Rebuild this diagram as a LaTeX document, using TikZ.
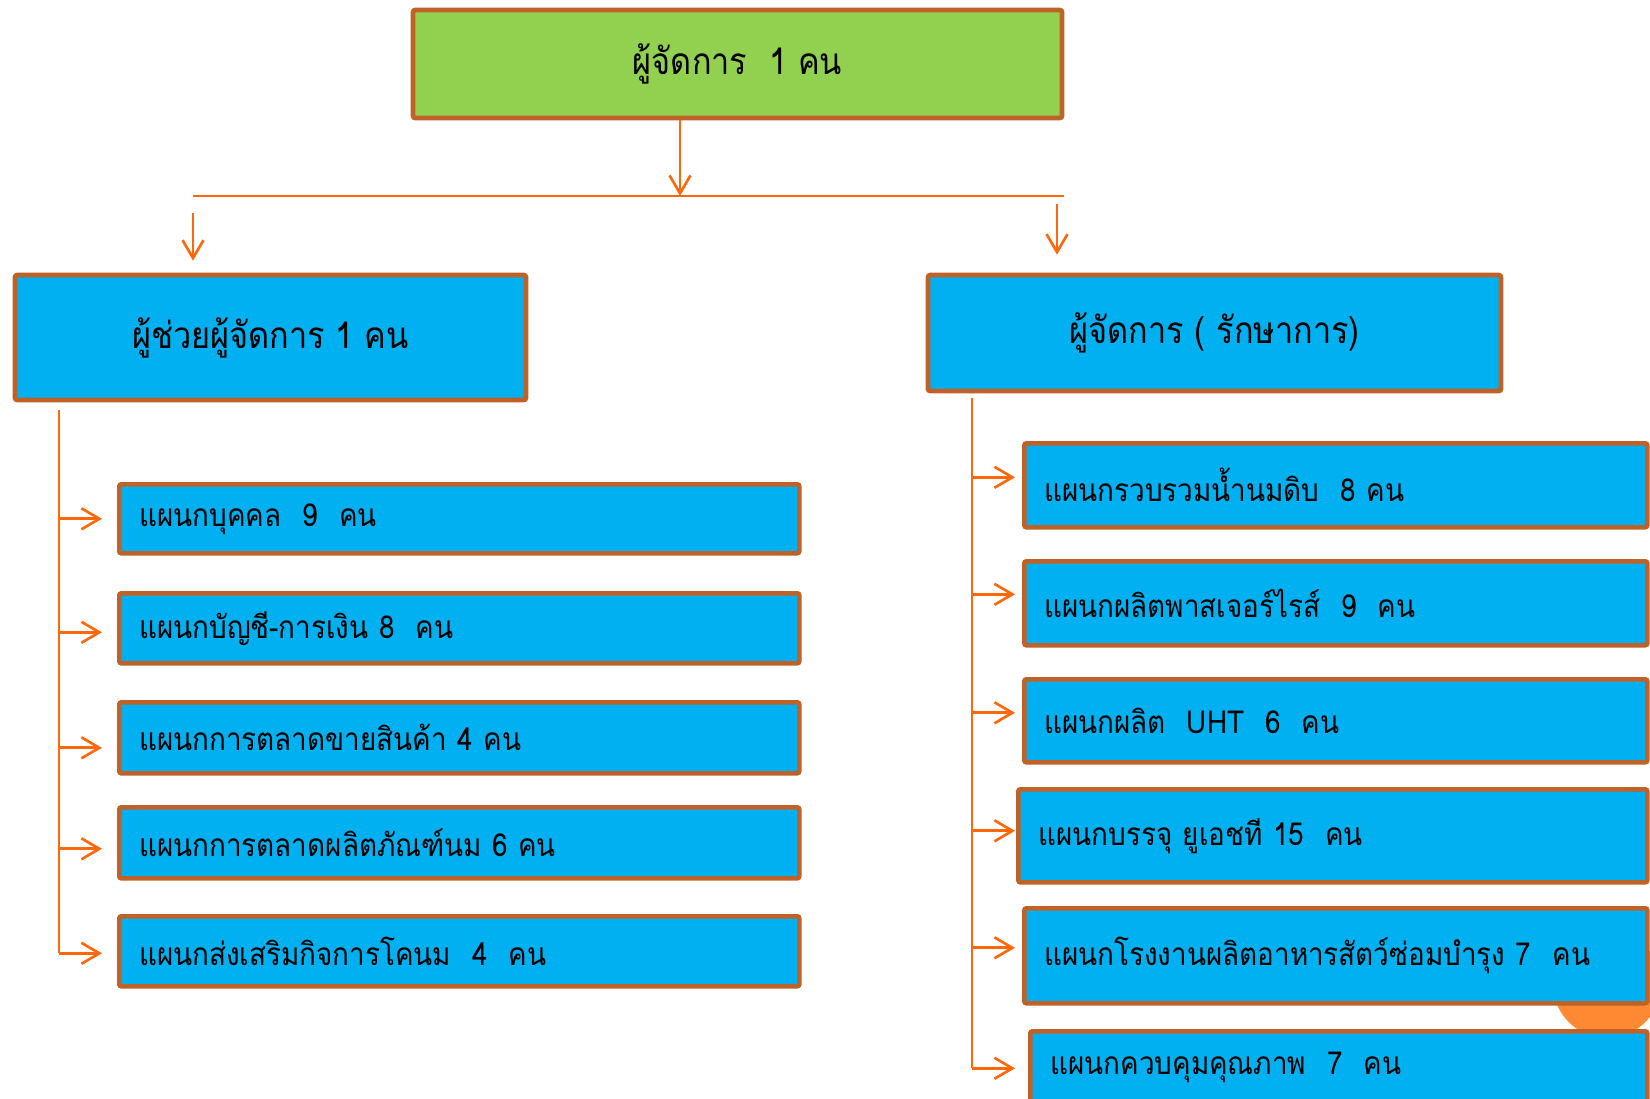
\documentclass[tikz,border=0pt]{standalone}
\usepackage{fontspec}
\setmainfont[Script=Thai,FakeStretch=0.88]{Loma}
\usetikzlibrary{arrows.meta,calc}
\definecolor{boxgreen}{RGB}{146,208,80}
\definecolor{boxblue}{RGB}{0,176,240}
\definecolor{boxrim}{RGB}{192,98,40}
\definecolor{linkorange}{RGB}{255,104,10}
\definecolor{bloborange}{RGB}{255,137,51}
\tikzset{
  headbox/.style={draw=boxrim,line width=1.3pt,rounded corners=0.6pt,fill=boxblue,inner sep=0pt,font=\fontsize{10.5}{12}\selectfont},
  unitbox/.style={draw=boxrim,line width=1.3pt,rounded corners=0.6pt,fill=boxblue,anchor=north west,align=left,inner xsep=2mm,inner ysep=0pt,font=\fontsize{9}{11}\selectfont},
  link/.style={draw=linkorange,line width=0.75pt},
  >={Straight Barb[length=1.8mm,width=2.1mm]}
}

\begin{document}
\begin{tikzpicture}[x=0.1mm,y=-0.1mm]
  \useasboundingbox (0,0) rectangle (1650,1098);
  \clip (0,0) rectangle (1650,1098);
  \fill[white] (0,0) rectangle (1650,1098);

  %orange blob behind the right column
  \fill[bloborange] (1607,984) circle (54);

  %manager and the two heads
  \node[headbox,fill=boxgreen,minimum width=64.9mm,minimum height=10.8mm] (mgr) at (737.5,64) {ผู้จัดการ~~1 คน};
  \node[headbox,minimum width=51.1mm,minimum height=12.5mm] (asst) at (270.5,337.5) {ผู้ช่วยผู้จัดการ 1 คน};
  \node[headbox,minimum width=57.3mm,minimum height=11.6mm] (actg) at (1214.5,333) {ผู้จัดการ ( รักษาการ)};

  %left column
  \node[unitbox,text width=64mm,minimum height=6.9mm] (l1) at (117,482) {แผนกบุคคล~~9~~คน};
  \node[unitbox,text width=64mm,minimum height=7.0mm] (l2) at (117,591) {แผนกบัญชี-การเงิน 8~~คน};
  \node[unitbox,text width=64mm,minimum height=7.1mm] (l3) at (117,700) {แผนกการตลาดขายสินค้า 4 คน};
  \node[unitbox,text width=64mm,minimum height=7.1mm] (l4) at (117,805) {แผนกการตลาดผลิตภัณฑ์นม 6 คน};
  \node[unitbox,text width=64mm,minimum height=7.0mm] (l5) at (117,914) {แผนกส่งเสริมกิจการโคนม~~4~~คน};

  %right column
  \node[unitbox,text width=58.3mm,minimum height=8.4mm] (r1) at (1022,441) {แผนกรวบรวมน้ำนมดิบ~~8 คน};
  \node[unitbox,text width=58.3mm,minimum height=8.4mm] (r2) at (1022,559) {แผนกผลิตพาสเจอร์ไรส์~~9~~คน};
  \node[unitbox,text width=58.3mm,minimum height=8.3mm] (r3) at (1022,677) {แผนกผลิต~~UHT~~6~~คน};
  \node[unitbox,text width=58.9mm,minimum height=9.3mm] (r4) at (1016,787) {แผนกบรรจุ ยูเอชที 15~~คน};
  \node[unitbox,text width=58.3mm,minimum height=9.5mm] (r5) at (1022,906) {แผนกโรงงานผลิตอาหารสัตว์ซ่อมบำรุง 7~~คน};
  \node[unitbox,text width=57.7mm,minimum height=7.2mm] (r6) at (1028,1029) {แผนกควบคุมคุณภาพ~~7~~คน};

  %top bus
  \coordinate (drop) at (680,196);
  \coordinate (busL) at (193,196);
  \coordinate (busR) at (1064,196);
  \coordinate (dropL) at (193,213);
  \coordinate (dropR) at (1057,204);
  \draw[link,->] (drop |- mgr.south) -- (drop);
  \draw[link] (busL) -- (busR);
  \draw[link,->] (dropL) -- ($(dropL |- asst.north)+(0,-12)$);
  \draw[link,->] (dropR) -- ($(dropR |- actg.north)+(0,-18)$);

  %left trunk
  \coordinate (trunkL) at (59,410);
  \coordinate (tipL) at (102,0);
  \draw[link] (trunkL) -- ($(trunkL |- l5.west)+(0,2)$);
  \foreach \u/\dy in {l1/0,l2/4,l3/10,l4/6,l5/2}
    \draw[link,->] ($(trunkL |- \u.west)+(0,\dy)$) -- ($(tipL |- \u.west)+(0,\dy)$);

  %right trunk
  \coordinate (trunkR) at (972,398);
  \coordinate (tipR) at (1015,0);
  \draw[link] (trunkR) -- ($(trunkR |- r6.west)+(0,1)$);
  \foreach \u/\dy in {r1/-8,r2/-9,r3/-8,r4/-5,r5/-8,r6/1}
    \draw[link,->] ($(trunkR |- \u.west)+(0,\dy)$) -- ($(tipR |- \u.west)+(0,\dy)$);
\end{tikzpicture}
\end{document}
